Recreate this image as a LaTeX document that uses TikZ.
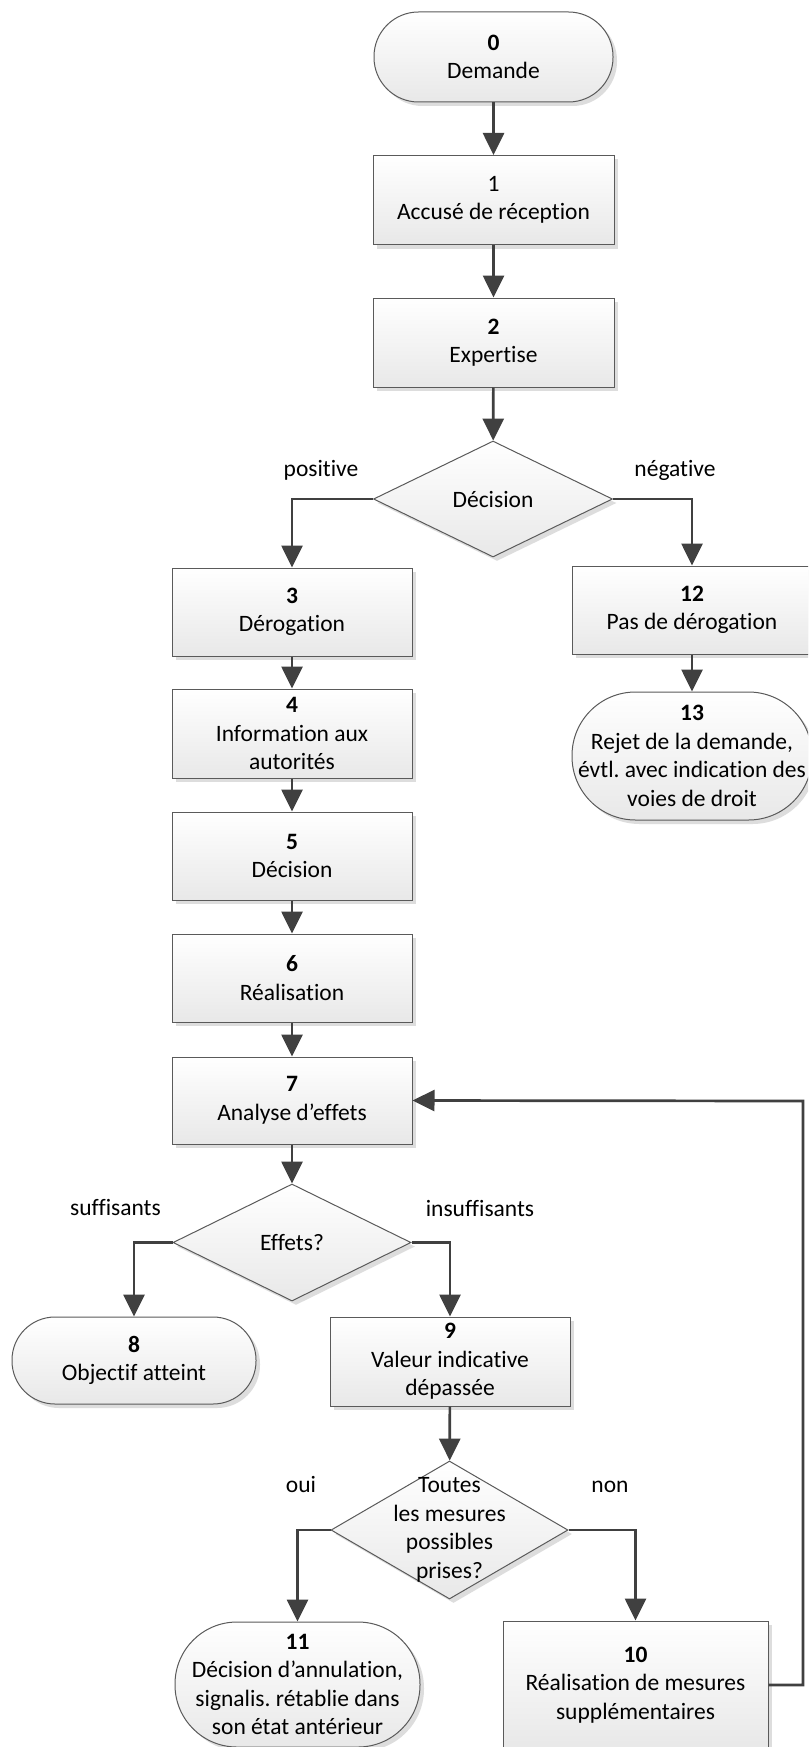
\documentclass[tikz,border=0pt]{standalone}
\usepackage{fontspec}
\setmainfont{Carlito}[RawFeature=-liga]
\frenchspacing
\usetikzlibrary{arrows.meta,shapes.geometric,shadows}
\definecolor{lc}{HTML}{404040}
\definecolor{bc}{HTML}{5A5A5A}
\tikzset{
  txtfont/.style={font=\fontsize{23.5}{28.5}\selectfont},
  box/.style={rectangle, draw=bc, line width=1pt, top color=white, bottom color=black!9,
    drop shadow={shadow xshift=4pt, shadow yshift=-4pt, fill=black!22, opacity=.6},
    align=center, inner sep=0pt, txtfont},
  term/.style={box},
  dia/.style={diamond, draw=bc, line width=1pt, top color=white, bottom color=black!9,
    drop shadow={shadow xshift=4pt, shadow yshift=-4pt, fill=black!22, opacity=.6},
    inner sep=0pt},
  diatext/.style={align=center, inner sep=0pt, txtfont},
  conn/.style={draw=lc, line width=2.7pt, -{Triangle[length=22pt,width=21pt]}},
  lbl/.style={anchor=base, inner sep=0pt, txtfont}
}
\begin{document}
\begin{tikzpicture}[x=1pt, y=-1pt]
\fill[white] (0,0) rectangle (808,1747);
\path[use as bounding box, clip] (0,0) rectangle (808,1747);

% main column
\node[term, minimum width=239pt, minimum height=90pt, rounded corners=44.5pt] (n0) at (493.5,57) {\textbf{0}\\Demande};
\node[box, minimum width=241pt, minimum height=89pt] (n1) at (493.5,200) {1\\Accusé de réception};
\node[box, minimum width=241pt, minimum height=89pt] (n2) at (493.5,342.5) {\textbf{2}\\Expertise};
\node[dia, minimum width=239pt, minimum height=116pt] (dec1) at (493,499) {};
\node[diatext] (dec1t) at (dec1) {Décision};

% left column
\node[box, minimum width=240pt, minimum height=88pt] (n3) at (292,612) {\textbf{3}\\Dérogation};
\node[box, minimum width=240pt, minimum height=89pt] (n4) at (292,733.5) {\textbf{4}\\Information aux\\autorités};
\node[box, minimum width=240pt, minimum height=88pt] (n5) at (292,856) {\textbf{5}\\Décision};
\node[box, minimum width=240pt, minimum height=88pt] (n6) at (292,978) {\textbf{6}\\Réalisation};
\node[box, minimum width=240pt, minimum height=87pt] (n7) at (292,1100.5) {\textbf{7}\\Analyse d’effets};
\node[dia, minimum width=238pt, minimum height=117pt] (eff) at (292,1242.5) {};
\node[diatext] (efft) at (eff) {Effets?};
\node[term, minimum width=244pt, minimum height=87pt, rounded corners=43pt] (n8) at (134,1360.5) {\textbf{8}\\Objectif atteint};
\node[box, minimum width=240pt, minimum height=89pt] (n9) at (450,1361.5) {\textbf{9}\\Valeur indicative\\dépassée};
\node[dia, minimum width=237pt, minimum height=138pt] (tou) at (449.5,1530) {};
\node[diatext] (tout) at (tou) {Toutes\\les mesures\\possibles\\prises?};
\node[box, minimum width=265pt, minimum height=128pt] (n10) at (635.5,1685) {\textbf{10}\\Réalisation de mesures\\supplémentaires};
\node[term, minimum width=245pt, minimum height=125pt, rounded corners=62pt] (n11) at (297.5,1684.5) {\textbf{11}\\Décision d’annulation,\\signalis. rétablie dans\\son état antérieur};

% right column
\node[box, minimum width=240pt, minimum height=88pt] (n12) at (692,610) {\textbf{12}\\Pas de dérogation};
\node[term, minimum width=240pt, minimum height=128pt, rounded corners=63.5pt] (n13) at (692,756) {\textbf{13}\\Rejet de la demande,\\évtl. avec indication des\\voies de droit};

% labels
\node[lbl] (lpos) at (321,476) {positive};
\node[lbl] (lneg) at (675,476) {négative};
\node[lbl] (lsuf) at (115.5,1215) {suffisants};
\node[lbl] (lins) at (480,1216) {insuffisants};
\node[lbl] (loui) at (301,1492) {oui};
\node[lbl] (lnon) at (610,1492) {non};

% connectors
\draw[conn] (n0) -- (n1);
\draw[conn] (n1) -- (n2);
\draw[conn] (n2) -- (dec1);
\draw[conn] (dec1.west) -| (n3.north);
\draw[conn] (dec1.east) -| (n12.north);
\draw[conn] (n12) -- (n13);
\draw[conn] (n3) -- (n4);
\draw[conn] (n4) -- (n5);
\draw[conn] (n5) -- (n6);
\draw[conn] (n6) -- (n7);
\draw[conn] (n7) -- (eff);
\draw[conn] (eff.west) -| (n8.north);
\draw[conn] (eff.east) -| (n9.north);
\draw[conn] (n9) -- (tou);
\draw[conn] (tou.west) -| (n11.north);
\draw[conn] (tou.east) -| (n10.north);
\coordinate (lp) at (803,1101);
\draw[conn] (n10.east) -| (lp) -- (n7.east);
\end{tikzpicture}
\end{document}
